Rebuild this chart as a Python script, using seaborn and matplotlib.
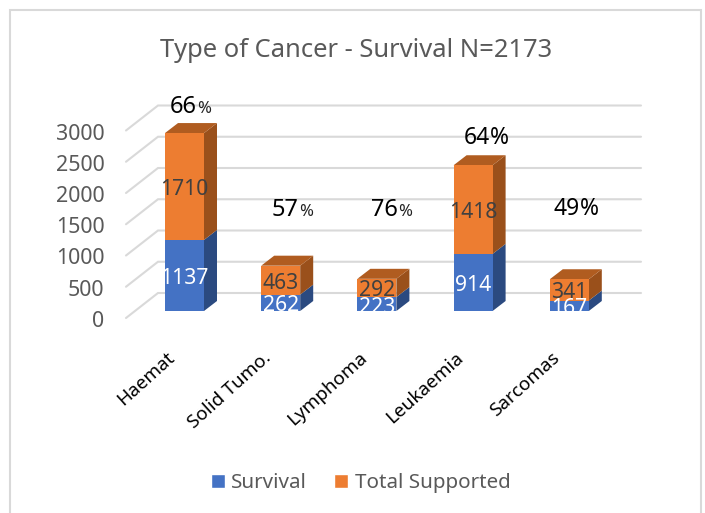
import matplotlib
matplotlib.use("Agg")
import matplotlib.pyplot as plt
from matplotlib.lines import Line2D
from matplotlib.patches import Polygon, Patch
from matplotlib.transforms import ScaledTranslation
import seaborn as sns
import pandas as pd

categories = ["Haemat", "Solid Tumo.", "Lymphoma", "Leukaemia", "Sarcomas"]
survival = [1137, 262, 223, 914, 167]
total_supported = [1710, 463, 292, 1418, 341]
percent_numbers = ["66", "57", "76", "64", "49"]
yticks = [0, 500, 1000, 1500, 2000, 2500, 3000]
title = "Type of Cancer - Survival N=2173"

# layout (pixels of the 705x513 figure)
W, H = 705, 513
AX_L, AX_R, AX_T, AX_B = 110, 650, 60, 311
C0, STEP = 184.5, 96.2
BAR_W = 39
PX_PER_UNIT = 0.0625
DEPTH_X, DEPTH_Y = 13, 10
BLUE, ORANGE = "#4472C4", "#ED7D31"
BLUE_SIDE, ORANGE_SIDE, ORANGE_TOP = "#2B4A80", "#9A501B", "#B05C20"
GRID = "#D9D9D9"
TXT = "#595959"
FONT = "Noto Sans"

sns.set_theme(style="white")
plt.rcParams["font.family"] = [FONT, "DejaVu Sans"]

fig = plt.figure(figsize=(W / 100, H / 100), dpi=100, facecolor="white")
ax = fig.add_axes([AX_L / W, 1 - AX_B / H, (AX_R - AX_L) / W, (AX_B - AX_T) / H])

df = pd.DataFrame({"cat": categories, "Survival": survival, "Total Supported": total_supported})
sns.barplot(data=df, x="cat", y="Survival", color=BLUE, width=BAR_W / STEP,
            saturation=1, ax=ax, zorder=3, linewidth=0)
sns.barplot(data=df, x="cat", y="Total Supported", color=ORANGE, width=BAR_W / STEP,
            saturation=1, ax=ax, zorder=3, linewidth=0, bottom=df["Survival"].to_numpy())

ax.set_xlim((AX_L - C0) / STEP, (AX_R - C0) / STEP)
ax.set_ylim(0, (AX_B - AX_T) / PX_PER_UNIT)


def xd(px):
    return (px - C0) / STEP


def yd(dpx):
    return dpx / PX_PER_UNIT


# depth faces, derived from the bars themselves
dx, dy = DEPTH_X / STEP, yd(DEPTH_Y)
n = len(categories)
for i, p in enumerate(ax.patches):
    x0, y0, w, h = p.get_x(), p.get_y(), p.get_width(), p.get_height()
    side = BLUE_SIDE if i < n else ORANGE_SIDE
    ax.add_patch(Polygon([(x0 + w, y0), (x0 + w + dx, y0 + dy), (x0 + w + dx, y0 + h + dy), (x0 + w, y0 + h)],
                         closed=True, fc=side, ec="none", zorder=2.9))
    if i >= n:
        ax.add_patch(Polygon([(x0, y0 + h), (x0 + dx, y0 + h + dy), (x0 + w + dx, y0 + h + dy), (x0 + w, y0 + h)],
                             closed=True, fc=ORANGE_TOP, ec="none", zorder=2.9))

# wall gridlines and floor diagonals
for v in yticks:
    ax.plot([xd(126), xd(158), xd(641)], [v + yd(-7), v + yd(18), v + yd(18)], color=GRID,
            lw=1.5, clip_on=False, zorder=1, solid_joinstyle="miter")

# value labels
for i in range(n):
    s, t = survival[i], total_supported[i]
    ax.text(i, s / 2 - yd(3), str(s), ha="center", va="center", color="white", fontsize=15.2, clip_on=True, zorder=5)
    ax.text(i, s + t / 2 - yd(3), str(t), ha="center", va="center", color="#404040", fontsize=15.2, clip_on=True, zorder=5)

# percentages
pct_x = [170, 272, 371, 464, 554]
pct_base = [113, 216, 216, 144, 215]
pct_size = [17, 17, 17, 16.5, 16.5]
pct_small = [12, 12, 12, 16.5, 16.5]
fig.canvas.draw()
r = fig.canvas.get_renderer()
for i in range(n):
    t = ax.text(xd(pct_x[i]), yd(AX_B - pct_base[i]), percent_numbers[i], ha="left", va="baseline",
                color="black", fontsize=pct_size[i], zorder=6)
    x1 = ax.transData.inverted().transform((t.get_window_extent(r).x1, 0))[0]
    ax.text(x1, yd(AX_B - pct_base[i]), "%", ha="left", va="baseline", color="#222222" if i < 3 else "black",
            fontsize=pct_small[i], zorder=6)

# axes
sns.despine(ax=ax, left=True, bottom=True)
ax.set_xlabel("")
ax.set_ylabel("")
ax.set_yticks(yticks)
ax.tick_params(axis="y", length=0, pad=4, labelsize=15.4, labelcolor=TXT)
ax.tick_params(axis="x", length=0, pad=27, labelsize=13.6, labelcolor="black")
ax.set_xticks(range(n))
ax.set_xticklabels(categories, rotation=42, ha="right", va="top", rotation_mode="anchor")
ytrans = ScaledTranslation(0, -8 / 100, fig.dpi_scale_trans)
for lab in ax.get_yticklabels():
    lab.set_transform(lab.get_transform() + ytrans)
xtrans = ScaledTranslation(-18 / 100, 0, fig.dpi_scale_trans)
for lab in ax.get_xticklabels():
    lab.set_transform(lab.get_transform() + xtrans)
ax.grid(False)

fig.text(356 / W, 1 - 51 / H, title, ha="center", va="center", color=TXT, fontsize=18.4)

handles = [Patch(fc=BLUE, label="Survival"), Patch(fc=ORANGE, label="Total Supported")]
fig.legend(handles=handles, loc="center", bbox_to_anchor=(360.5 / W, 1 - 483 / H), ncol=2, frameon=False,
           fontsize=14.8, labelcolor=TXT, handlelength=0.68, handleheight=0.68, handletextpad=0.3, columnspacing=1.35)

# outer chart frame: open at the bottom
top = 1 - 9.5 / H
fig.add_artist(Line2D([10 / W, 10 / W, 701 / W, 701 / W], [0, top, top, 0], color=GRID, lw=1.5,
                      solid_joinstyle="miter"))

fig.savefig("out.png", dpi=100)
